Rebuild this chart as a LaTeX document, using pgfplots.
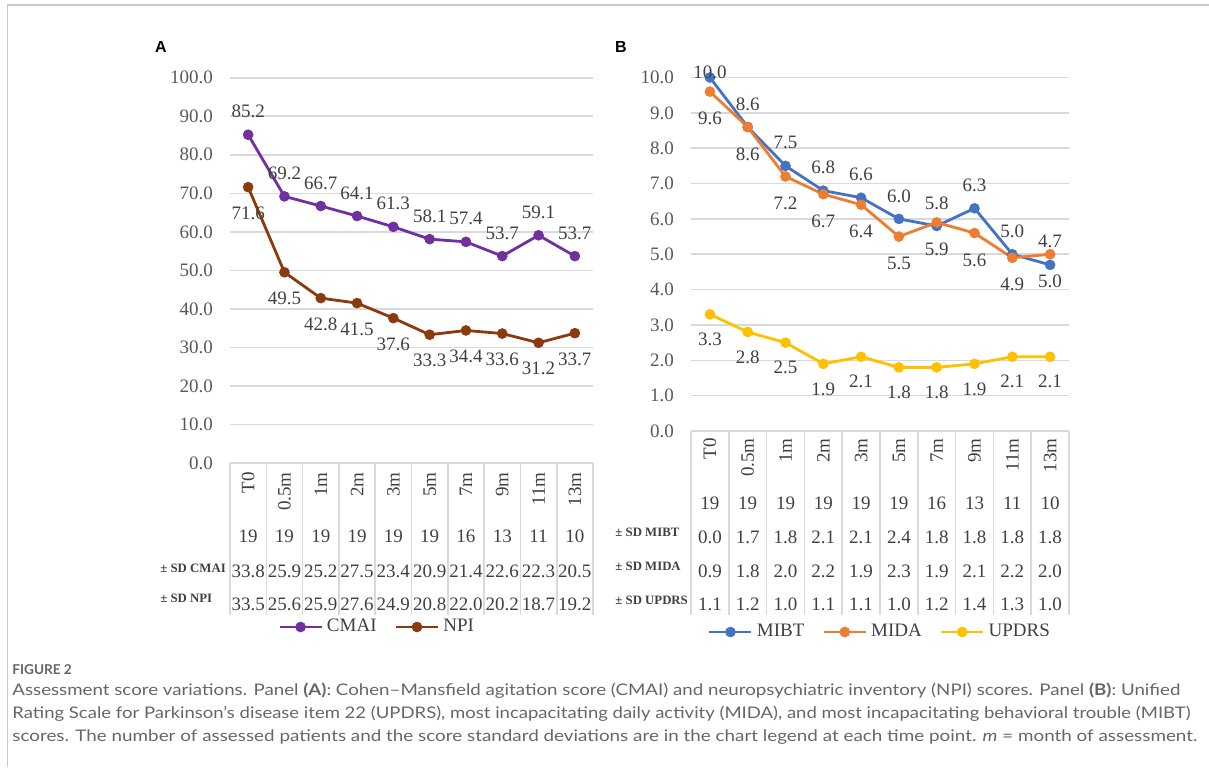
\documentclass[border=0pt]{standalone}
\usepackage{fontspec}
\setmainfont{Liberation Serif}
\newfontfamily\capfont{Lato}
\newfontfamily\lblfont{Liberation Sans}
\usepackage{graphicx}
\usepackage{pgfplots}
\usepackage{pgfplotstable}
\pgfplotsset{compat=1.18}

\definecolor{cmai}{HTML}{7030A0}
\definecolor{npi}{HTML}{8B3A0F}
\definecolor{mibt}{HTML}{4472C4}
\definecolor{mida}{HTML}{ED7D31}
\definecolor{updrs}{HTML}{FFC000}
\definecolor{gridc}{HTML}{D9D9D9}
\definecolor{tickc}{HTML}{595959}
\definecolor{txtc}{HTML}{404040}
\definecolor{capc}{HTML}{666666}
\definecolor{framec}{HTML}{C8C8C8}

\pgfplotstableread{
x cmai npi
0 85.2 71.6
1 69.2 49.5
2 66.7 42.8
3 64.1 41.5
4 61.3 37.6
5 58.1 33.3
6 57.4 34.4
7 53.7 33.6
8 59.1 31.2
9 53.7 33.7
}\dataA

\pgfplotstableread{
x mibt dmibt mida updrs
0 10.0 2.5 9.6 3.3
1 8.6 11.5 8.6 2.8
2 7.5 11.5 7.2 2.5
3 6.8 11.5 6.7 1.9
4 6.6 11.5 6.4 2.1
5 6.0 11.5 5.5 1.8
6 5.8 11.5 5.9 1.8
7 6.3 11.5 5.6 1.9
8 5.0 11.5 4.9 2.1
9 4.7 11.5 5.0 2.1
}\dataB

\pgfkeys{/pgf/number format/.cd, fixed, fixed zerofill, precision=1, assume math mode=true}
\newcommand\fs{\fontsize{9.5}{11}\selectfont}

\pgfplotsset{
  chartstyle/.style={
    scale only axis, xmin=-0.5, xmax=9.5, ymin=0,
    axis line style={draw=none}, xtick=\empty, major tick length=0pt,
    ymajorgrids, grid style={gridc, line width=0.8pt},
    yticklabel style={font=\fs, text=tickc, xshift=-5pt},
    clip=false,
    every axis plot/.append style={line width=1.4pt, mark=*, mark size=2.5pt, mark options={solid, line width=0.3pt}},
    legend style={draw=none, fill=none, font=\fs, text=txtc, legend columns=-1,
      /tikz/every even column/.append style={column sep=7pt}},
    legend image code/.code={\draw[mark repeat=2, mark phase=2, ##1] plot coordinates {(0pt,0pt) (10.5pt,0pt) (21pt,0pt)};},
  },
  lbl/.style={nodes near coords, every node near coord/.append style={font=\fs, text=txtc, anchor=center, yshift=#1}},
}

\begin{document}
\begin{tikzpicture}
\path[use as bounding box] (0pt,0pt) rectangle (604.5pt,-383.5pt);

% Panel A
\begin{axis}[chartstyle,
  at={(115pt,-231.5pt)}, anchor=south west,
  width=181.5pt, height=192.65pt, ymax=100, ytick={0,10,...,100},
  legend style={at={(0.408,-0.4256)}, anchor=center}]
\addplot[cmai, lbl=11.5pt] table[x=x, y=cmai] {\dataA};
\addlegendentry{CMAI}
\addplot[npi, lbl=-13pt] table[x=x, y=npi] {\dataA};
\addlegendentry{NPI}
\end{axis}

% Panel B
\begin{axis}[chartstyle,
  at={(345.5pt,-215.5pt)}, anchor=south west,
  width=189pt, height=176.75pt, ymax=10, ytick={0,1,...,10},
  legend style={at={(0.5026,-0.5686)}, anchor=center}]
\addplot[mibt, nodes near coords, visualization depends on={\thisrow{dmibt}\as\dy},
  every node near coord/.append style={font=\fs, text=txtc, anchor=center, yshift=\dy pt}]
  table[x=x, y=mibt] {\dataB};
\addlegendentry{MIBT}
\addplot[mida, lbl=-13.5pt] table[x=x, y=mida] {\dataB};
\addlegendentry{MIDA}
\addplot[updrs, lbl=-12.5pt] table[x=x, y=updrs] {\dataB};
\addlegendentry{UPDRS}
\end{axis}

\begin{scope}[x=0.5pt, y=-0.5pt, tbl/.style={font=\fs, text=txtc, inner sep=0pt},
  rowl/.style={font=\fontsize{6.4}{7}\selectfont\bfseries, text=txtc, inner sep=0pt, anchor=west}]
  % frame
  \draw[framec, line width=0.9pt] (7.5,767) -- (7.5,5) -- (1209,5);
  % panel letters
  \node[font=\lblfont\bfseries\fontsize{8}{9}\selectfont, inner sep=0pt] at (161,47) {A};
  \node[font=\lblfont\bfseries\fontsize{8}{9}\selectfont, inner sep=0pt] at (621,47) {B};

  % ---- Table A ----
  \foreach \k in {0,...,10} \draw[gridc, line width=0.8pt] ({230+36.3*\k},463) -- ({230+36.3*\k},615);
  \foreach \lab [count=\i from 0] in {T0,0.5m,1m,2m,3m,5m,7m,9m,11m,13m}
    \node[tbl, rotate=90, anchor=east] at ({248.15+36.3*\i},472) {\lab};
  \foreach \v [count=\i from 0] in {19,19,19,19,19,19,16,13,11,10}
    \node[tbl] at ({248.15+36.3*\i},536) {\v};
  \foreach \v [count=\i from 0] in {33.8,25.9,25.2,27.5,23.4,20.9,21.4,22.6,22.3,20.5}
    \node[tbl] at ({248.15+36.3*\i},571) {\v};
  \foreach \v [count=\i from 0] in {33.5,25.6,25.9,27.6,24.9,20.8,22.0,20.2,18.7,19.2}
    \node[tbl] at ({248.15+36.3*\i},604) {\v};
  \node[rowl] at (160,568) {± SD CMAI};
  \node[rowl] at (160,598) {± SD NPI};

  % ---- Table B ----
  \foreach \k in {0,...,10} \draw[gridc, line width=0.8pt] ({691+37.8*\k},431) -- ({691+37.8*\k},615);
  \foreach \lab [count=\i from 0] in {T0,0.5m,1m,2m,3m,5m,7m,9m,11m,13m}
    \node[tbl, rotate=90, anchor=east] at ({709.9+37.8*\i},438) {\lab};
  \foreach \v [count=\i from 0] in {19,19,19,19,19,19,16,13,11,10}
    \node[tbl] at ({709.9+37.8*\i},503) {\v};
  \foreach \v [count=\i from 0] in {0.0,1.7,1.8,2.1,2.1,2.4,1.8,1.8,1.8,1.8}
    \node[tbl] at ({709.9+37.8*\i},537) {\v};
  \foreach \v [count=\i from 0] in {0.9,1.8,2.0,2.2,1.9,2.3,1.9,2.1,2.2,2.0}
    \node[tbl] at ({709.9+37.8*\i},571) {\v};
  \foreach \v [count=\i from 0] in {1.1,1.2,1.0,1.1,1.1,1.0,1.2,1.4,1.3,1.0}
    \node[tbl] at ({709.9+37.8*\i},604) {\v};
  \node[rowl] at (615,532) {± SD MIBT};
  \node[rowl] at (615,566) {± SD MIDA};
  \node[rowl] at (615,600) {± SD UPDRS};

  % ---- Caption ----
  \node[anchor=west, inner sep=0pt, text=capc, font=\capfont\bfseries\fontsize{6.8}{8}\selectfont] at (12,670) {FIGURE 2};
  \node[anchor=west, inner sep=0pt, text=capc, font=\capfont\fontsize{8}{9}\selectfont] at (12,691)
    {\resizebox{584pt}{\height}{Assessment score variations. Panel \textbf{(A)}: Cohen–Mansfield agitation score (CMAI) and neuropsychiatric inventory (NPI) scores. Panel \textbf{(B)}: Unified}};
  \node[anchor=west, inner sep=0pt, text=capc, font=\capfont\fontsize{8}{9}\selectfont] at (12,714)
    {\resizebox{589pt}{\height}{Rating Scale for Parkinson’s disease item 22 (UPDRS), most incapacitating daily activity (MIDA), and most incapacitating behavioral trouble (MIBT)}};
  \node[anchor=west, inner sep=0pt, text=capc, font=\capfont\fontsize{8}{9}\selectfont] at (12,737)
    {\resizebox{592.5pt}{\height}{scores. The number of assessed patients and the score standard deviations are in the chart legend at each time point. \textit{m} = month of assessment.}};
\end{scope}
\end{tikzpicture}
\end{document}
